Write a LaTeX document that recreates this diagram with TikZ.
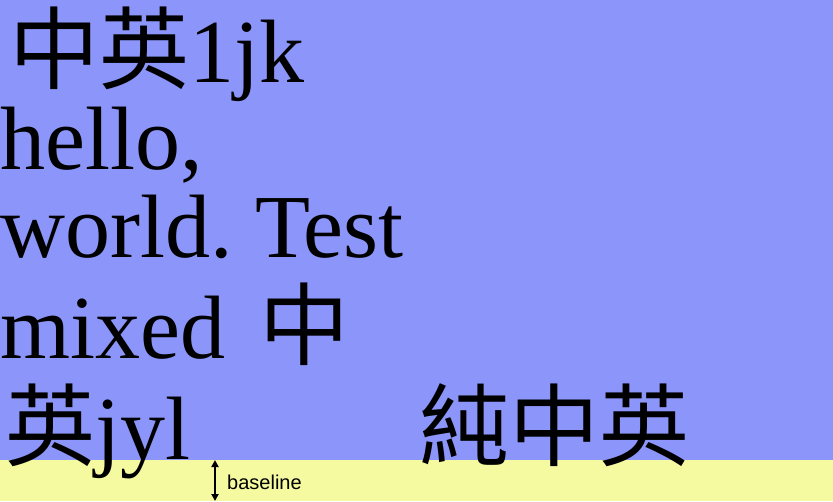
\documentclass[tikz,border=0pt]{standalone}
\usepackage{fontspec}
\setmainfont{Liberation Serif}
\newfontfamily\cjk{Noto Sans CJK TC}
\newfontfamily\lblfont{Liberation Sans}
\usepackage{tikz}
\usetikzlibrary{positioning, arrows.meta}
\definecolor{bgblue}{RGB}{140,150,250}
\definecolor{bgyellow}{RGB}{245,250,160}
\frenchspacing
\tikzset{
    bigline/.style={anchor=base west, inner sep=0pt, font=\fontsize{90}{90}\selectfont},
    blarrow/.style={{Triangle[length=7pt,width=7pt]}-{Triangle[length=7pt,width=7pt]}, line width=1.8pt},
    bllbl/.style={anchor=base west, inner sep=0pt, font=\lblfont\fontsize{20}{20}\selectfont},
}
\begin{document}
\begin{tikzpicture}[x=1pt, y=-1pt]
        \useasboundingbox (0,0) rectangle (833,501);
        % Fondo
        \fill[bgblue]   (0,0)   rectangle (833,460);
        \fill[bgyellow] (0,460) rectangle (833,501);
        % Lineas de texto
        \node[bigline] (l1) at (9,82)   {{\cjk 中英}1jk};
        \node[bigline] (l2) at (0,169)  {hello,};
        \node[bigline] (l3) at (0,257)  {world. Test};
        \node[bigline] (l4) at (0,358)  {mixed\kern12pt\ {\cjk 中}};
        \node[bigline] (l5) at (5,459)  {{\cjk 英}jyl};
        \node[bigline] (l6) at (419,459) {\cjk 純中英};
        % Linea base
        \coordinate (bltop) at (215,460);
        \coordinate (blbot) at (215,501);
        \draw[blarrow] (bltop) -- (blbot);
        \node[bllbl] (bl) at (227,489) {baseline};
    \end{tikzpicture}
\end{document}
